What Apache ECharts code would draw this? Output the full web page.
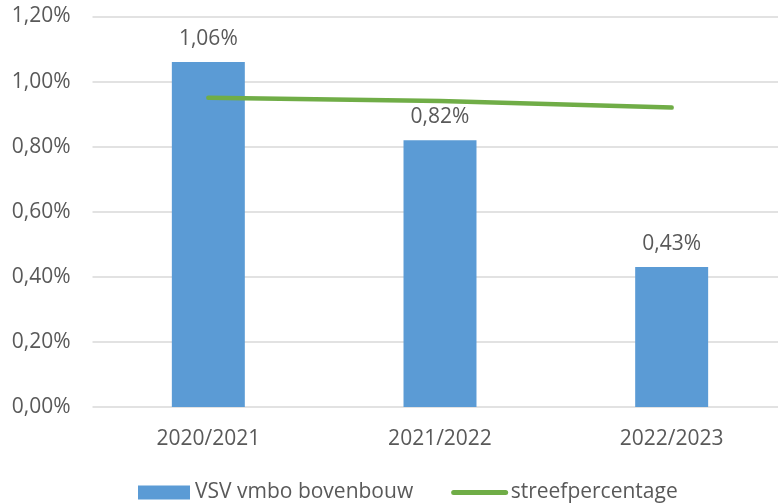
<!DOCTYPE html>
<html>
<head>
<meta charset="utf-8">
<script src="https://cdn.jsdelivr.net/npm/echarts@6/dist/echarts.min.js"></script>
<style>
  html, body { margin: 0; padding: 0; background: #fff; overflow: hidden; }
  #chart { width: 790px; height: 503px; }
</style>
</head>
<body>
<div id="chart"></div>
<script>
// schooljaren en percentages
var categories = ['2020/2021', '2021/2022', '2022/2023'];
var vsvValues = [1.06, 0.82, 0.43];
var streefValues = [0.95, 0.94, 0.92];
var yTicks = [0, 0.2, 0.4, 0.6, 0.8, 1.0, 1.2];

var textColor = '#595959';
var fontFamily = '"Open Sans", "Liberation Sans", sans-serif';

function pct(v) {
    return v.toFixed(2).replace('.', ',') + '%';
}

// de plotzone loopt in het origineel iets voorbij de rechterrand
var chart = echarts.init(document.getElementById('chart'));

chart.setOption({
    animation: false,
    textStyle: { fontFamily: fontFamily, color: textColor },
    grid: {
        left: 92.5,
        width: 695,
        top: 16.5,
        height: 390.5,
        containLabel: false
    },
    legend: {
        top: 477,
        left: 133,
        itemWidth: 52,
        itemHeight: 14,
        itemGap: 38,
        textStyle: { fontSize: 21, color: textColor, fontFamily: fontFamily },
        data: [
            { name: 'VSV vmbo bovenbouw', icon: 'rect' },
            {
                name: 'streefpercentage',
                itemStyle: { opacity: 0 },
                lineStyle: { color: '#70ad47', width: 5, cap: 'round' }
            }
        ]
    },
    xAxis: {
        type: 'category',
        data: categories,
        axisLine: { show: false },
        axisTick: { show: false },
        axisLabel: { fontSize: 21, color: textColor, margin: 22 }
    },
    yAxis: {
        type: 'value',
        min: yTicks[0],
        max: yTicks[yTicks.length - 1],
        interval: 0.2,
        axisLine: { show: false },
        axisTick: { show: false },
        splitLine: { lineStyle: { color: '#d9d9d9', width: 1.5 } },
        axisLabel: {
            fontSize: 21,
            color: textColor,
            margin: 22,
            formatter: pct
        }
    },
    series: [
        {
            name: 'VSV vmbo bovenbouw',
            type: 'bar',
            data: vsvValues,
            barWidth: '31.5%',
            itemStyle: { color: '#5b9bd5' },
            label: {
                show: true,
                position: 'top',
                distance: 13,
                fontSize: 21,
                color: textColor,
                formatter: function (p) { return pct(p.value); }
            }
        },
        {
            name: 'streefpercentage',
            type: 'line',
            data: streefValues,
            symbol: 'none',
            showSymbol: false,
            itemStyle: { color: '#70ad47' },
            lineStyle: { color: '#70ad47', width: 4.5, cap: 'round' }
        }
    ]
});
</script>
</body>
</html>
